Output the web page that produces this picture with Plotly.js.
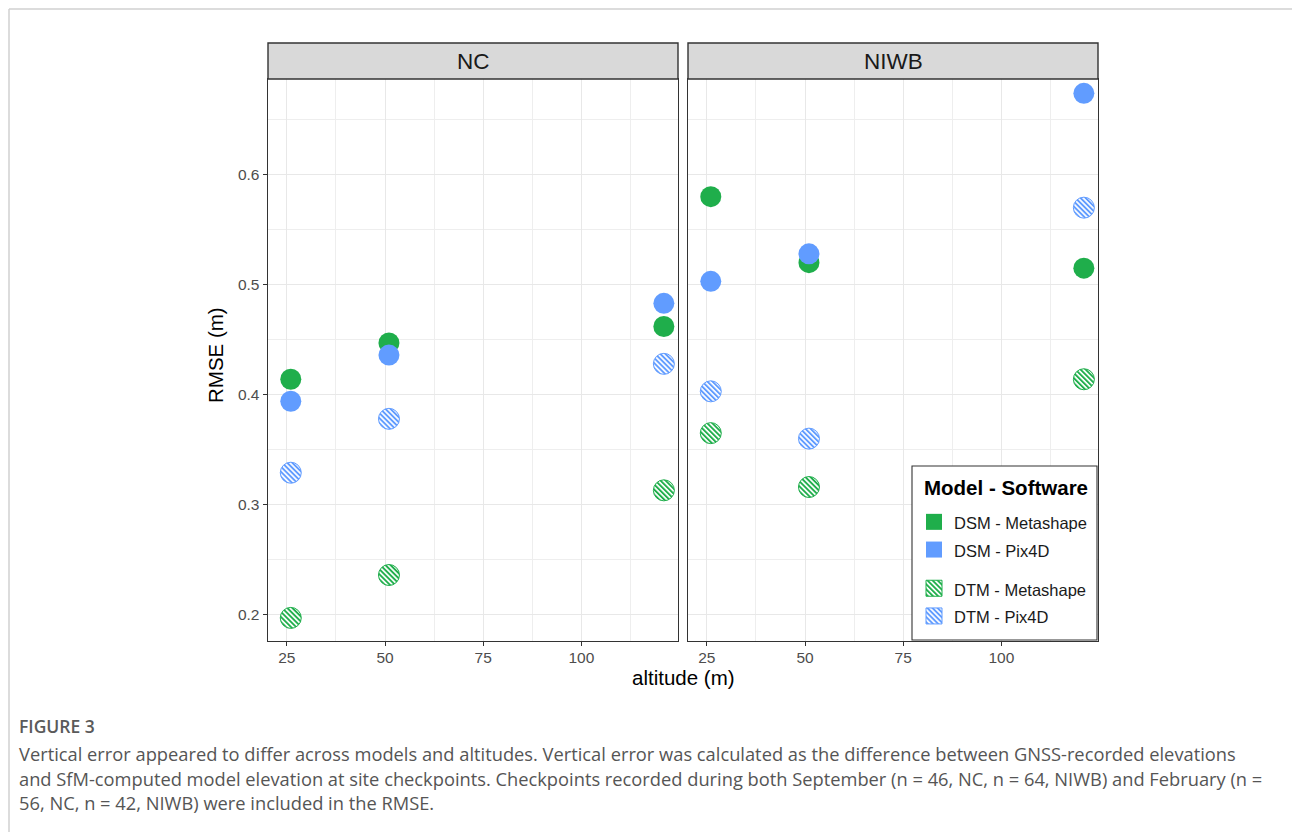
<!DOCTYPE html>
<html>
<head>
<meta charset="utf-8">
<script src="https://cdn.plot.ly/plotly-3.0.1.min.js"></script>
<style>
html,body{margin:0;padding:0;background:#fff;}
#chart{width:1292px;height:832px;}
</style>
</head>
<body>
<svg width="0" height="0" style="position:absolute">
  <defs>
    <pattern id="hatch-green" patternUnits="userSpaceOnUse" width="3.6" height="3.6" patternTransform="rotate(-45)">
      <rect x="0" y="0" width="3.6" height="3.6" fill="#ffffff"></rect>
      <rect x="0" y="0" width="1.9" height="3.6" fill="#1fae4b"></rect>
    </pattern>
    <pattern id="hatch-blue" patternUnits="userSpaceOnUse" width="3.6" height="3.6" patternTransform="rotate(-45)">
      <rect x="0" y="0" width="3.6" height="3.6" fill="#ffffff"></rect>
      <rect x="0" y="0" width="1.9" height="3.6" fill="#619cff"></rect>
    </pattern>
  </defs>
</svg>
<div id="chart"></div>
<script>
// ---------------- data ----------------
const sites = ['NC', 'NIWB'];
const altitude = [26, 51, 121];
const xTicks = [25, 50, 75, 100];
const yTicks = [0.2, 0.3, 0.4, 0.5, 0.6];

const legendTitle = 'Model - Software';
const seriesNames = ['DSM - Metashape', 'DSM - Pix4D', 'DTM - Metashape', 'DTM - Pix4D'];

// RMSE values per site, ordered by altitude
const dsmMetashapeNC   = [0.414, 0.447, 0.462];
const dsmPix4dNC       = [0.394, 0.436, 0.483];
const dtmMetashapeNC   = [0.197, 0.236, 0.313];
const dtmPix4dNC       = [0.329, 0.378, 0.428];

const dsmMetashapeNIWB = [0.580, 0.520, 0.515];
const dsmPix4dNIWB     = [0.503, 0.528, 0.674];
const dtmMetashapeNIWB = [0.365, 0.316, 0.414];
const dtmPix4dNIWB     = [0.403, 0.360, 0.570];

const valuesBySite = {
  NC:   [dsmMetashapeNC, dsmPix4dNC, dtmMetashapeNC, dtmPix4dNC],
  NIWB: [dsmMetashapeNIWB, dsmPix4dNIWB, dtmMetashapeNIWB, dtmPix4dNIWB]
};

// ---------------- styles ----------------
const GREEN = '#1fae4b';
const BLUE = '#619cff';
const seriesColor = [GREEN, BLUE, GREEN, BLUE];
const seriesHatch = [null, null, 'hatch-green', 'hatch-blue'];
const seriesGroup = ['DSM', 'DSM', 'DTM', 'DTM'];
const FONT = 'Liberation Sans, Arial, sans-serif';
const W = 1292, H = 832;
const px = v => v / W;
const py = v => 1 - v / H;

const traces = [];
sites.forEach((site, s) => {
  const xa = s === 0 ? 'x' : 'x2';
  const ya = s === 0 ? 'y' : 'y2';
  valuesBySite[site].forEach((vals, k) => {
    traces.push({
      type: 'scatter', mode: 'markers',
      x: altitude, y: vals, xaxis: xa, yaxis: ya,
      name: seriesNames[k], showlegend: false, hoverinfo: 'x+y+name',
      meta: {hatch: seriesHatch[k]},
      marker: {
        size: 21, color: seriesColor[k], opacity: 1,
        line: {width: seriesHatch[k] ? 1 : 0, color: seriesColor[k]}
      }
    });
  });
});
// legend entries (square keys)
seriesNames.forEach((nm, k) => {
  traces.push({
    type: 'scatter', mode: 'markers', x: [null], y: [null], xaxis: 'x2', yaxis: 'y2',
    name: '<span style="font-size:16.5px">' + nm + '</span>',
    legendgroup: seriesGroup[k], showlegend: true,
    meta: {hatch: seriesHatch[k]},
    marker: {symbol: 'square', size: 16, color: seriesColor[k],
             line: {width: seriesHatch[k] ? 1 : 0, color: seriesColor[k]}}
  });
});

const panelLeft = [268, 688], panelRight = [678, 1098];
const panelTop = 79, panelBottom = 641, stripTop = 43;

function xAxisDef(s) {
  return {
    domain: [px(panelLeft[s]), px(panelRight[s])],
    range: [20.2, 124.6], anchor: s === 0 ? 'y' : 'y2',
    tickmode: 'array', tickvals: xTicks, ticktext: xTicks.map(String),
    ticks: 'outside', ticklen: 4, tickwidth: 1, tickcolor: '#333',
    ticklabelstandoff: -2,
    tickfont: {family: FONT, size: 15.5, color: '#4d4d4d'},
    showline: true, mirror: true, linecolor: '#333', linewidth: 1.4,
    showgrid: true, gridcolor: '#e8e8e8', gridwidth: 1, zeroline: false,
    minor: {showgrid: true, gridcolor: '#eeeeee', gridwidth: 1, tickmode: 'array', tickvals: [37.5, 62.5, 87.5, 112.5]},
    fixedrange: true
  };
}
function yAxisDef(s) {
  const a = {
    domain: [py(panelBottom), py(panelTop)],
    range: [0.176, 0.687], anchor: s === 0 ? 'x' : 'x2',
    tickmode: 'array', tickvals: yTicks, ticktext: yTicks.map(v => v.toFixed(1)),
    ticks: s === 0 ? 'outside' : '', ticklen: 4, tickwidth: 1, tickcolor: '#333',
    showticklabels: s === 0,
    tickfont: {family: FONT, size: 15.5, color: '#4d4d4d'},
    showline: true, mirror: true, linecolor: '#333', linewidth: 1.4,
    showgrid: true, gridcolor: '#e8e8e8', gridwidth: 1, zeroline: false,
    minor: {showgrid: true, gridcolor: '#eeeeee', gridwidth: 1, tickmode: 'array', tickvals: [0.25, 0.35, 0.45, 0.55, 0.65]},
    fixedrange: true
  };
  if (s === 1) a.matches = 'y';
  return a;
}

const shapes = [
  // figure frame lines
  {type: 'line', xref: 'paper', yref: 'paper', x0: px(9), x1: 1, y0: py(9), y1: py(9), line: {color: '#d0d0d0', width: 1.5}},
  {type: 'line', xref: 'paper', yref: 'paper', x0: px(9), x1: px(9), y0: py(9), y1: 0, line: {color: '#d0d0d0', width: 1.5}},
  // legend box
  {type: 'rect', xref: 'paper', yref: 'paper', layer: 'above',
   x0: px(912), x1: px(1097), y0: py(640), y1: py(466),
   fillcolor: '#ffffff', line: {color: '#333', width: 1.1}}
];
const annotations = [];
sites.forEach((site, s) => {
  shapes.push({type: 'rect', xref: 'paper', yref: 'paper', layer: 'above',
    x0: px(panelLeft[s]), x1: px(panelRight[s]), y0: py(panelTop), y1: py(stripTop),
    fillcolor: '#d9d9d9', line: {color: '#333', width: 1.4}});
  annotations.push({xref: 'paper', yref: 'paper', x: px((panelLeft[s] + panelRight[s]) / 2), y: py((panelTop + stripTop) / 2),
    text: site, showarrow: false, xanchor: 'center', yanchor: 'middle',
    font: {family: FONT, size: 22.5, color: '#1a1a1a'}});
});
annotations.push({xref: 'paper', yref: 'paper', x: px(215), y: py(355), text: 'RMSE (m)', textangle: -90,
  showarrow: false, xanchor: 'center', yanchor: 'middle', font: {family: FONT, size: 20.5, color: '#000'}});
annotations.push({xref: 'paper', yref: 'paper', x: px(683), y: py(677), text: 'altitude (m)',
  showarrow: false, xanchor: 'center', yanchor: 'middle', font: {family: FONT, size: 20.5, color: '#000'}});
// legend title
annotations.push({xref: 'paper', yref: 'paper', x: px(922), y: py(487), text: '<b>' + legendTitle + '</b>',
  showarrow: false, xanchor: 'left', yanchor: 'middle', font: {family: FONT, size: 20.5, color: '#000'}});

const CAP_FONT = 'Open Sans, Noto Sans, sans-serif';
annotations.push({xref: 'paper', yref: 'paper', x: px(17), y: py(726), text: 'FIGURE 3',
  showarrow: false, xanchor: 'left', yanchor: 'middle', font: {family: CAP_FONT, size: 17.5, color: '#5a5a5a', weight: 600}});
const captionLines = [
  'Vertical error appeared to differ across models and altitudes. Vertical error was calculated as the difference between GNSS-recorded elevations',
  'and SfM-computed model elevation at site checkpoints. Checkpoints recorded during both September (n = 46, NC, n = 64, NIWB) and February (n =',
  '56, NC, n = 42, NIWB) were included in the RMSE.'
];
const captionY = [753, 778, 802];
captionLines.forEach((t, i) => {
  annotations.push({xref: 'paper', yref: 'paper', x: px(17), y: py(captionY[i]), text: t,
    showarrow: false, xanchor: 'left', yanchor: 'middle', font: {family: CAP_FONT, size: 18.3, color: '#555'}});
});

const layout = {
  width: W, height: H, autosize: false,
  margin: {l: 0, r: 0, t: 0, b: 0, pad: 0},
  paper_bgcolor: '#fff', plot_bgcolor: '#fff',
  font: {family: FONT},
  xaxis: xAxisDef(0), xaxis2: xAxisDef(1),
  yaxis: yAxisDef(0), yaxis2: yAxisDef(1),
  showlegend: true,
  legend: {
    x: px(914), xanchor: 'left', y: py(635), yanchor: 'bottom',
    bgcolor: 'rgba(0,0,0,0)', borderwidth: 0,
    font: {family: FONT, size: 19, color: '#1a1a1a'},
    tracegroupgap: 11, itemwidth: 30, traceorder: 'grouped', itemclick: false, itemdoubleclick: false
  },
  shapes: shapes, annotations: annotations
};

function applyHatch(gd) {
  gd.querySelectorAll('.scatterlayer g.trace').forEach(g => {
    const cd = g.__data__;
    const tr = cd && cd[0] && cd[0].trace;
    if (tr && tr.meta && tr.meta.hatch) {
      g.querySelectorAll('path.point').forEach(p => { p.style.fill = 'url(#' + tr.meta.hatch + ')'; });
    }
  });
  gd.querySelectorAll('.legend g.traces').forEach(g => {
    const d = g.__data__;
    const tr = d && d[0] && d[0].trace;
    if (tr && tr.meta && tr.meta.hatch) {
      g.querySelectorAll('.legendpoints path').forEach(p => { p.style.fill = 'url(#' + tr.meta.hatch + ')'; });
    }
  });
}

const gd = document.getElementById('chart');
Plotly.newPlot(gd, traces, layout, {displayModeBar: false, staticPlot: true}).then(() => {
  applyHatch(gd);
  gd.on && gd.on('plotly_afterplot', () => applyHatch(gd));
});
</script>
</body>
</html>
